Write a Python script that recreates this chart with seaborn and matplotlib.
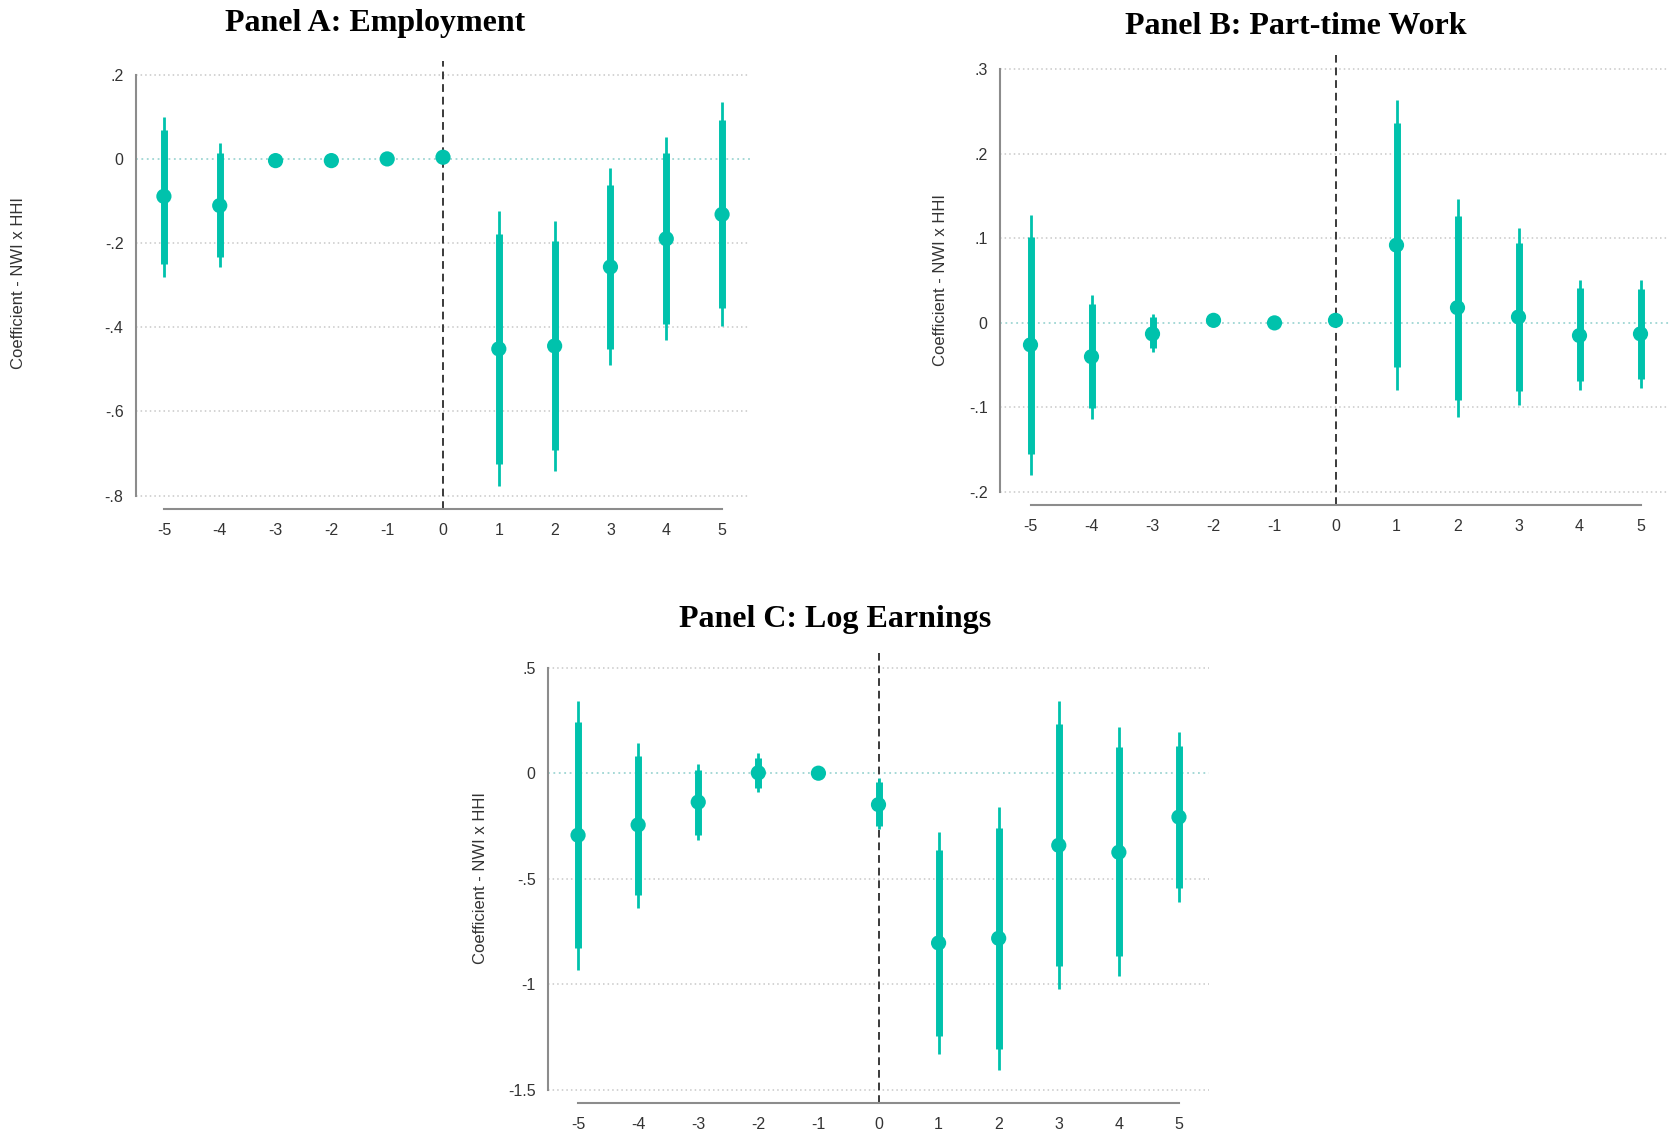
import numpy as np
import pandas as pd
import matplotlib
matplotlib.use("Agg")
import matplotlib.pyplot as plt
import seaborn as sns

# Event time relative to the shock
event_time = [-5, -4, -3, -2, -1, 0, 1, 2, 3, 4, 5]

# Panel A: Employment
emp_coef = [-0.088, -0.110, -0.003, -0.003, 0.001, 0.005, -0.451, -0.444, -0.256, -0.189, -0.131]
emp_hi90 = [0.069, 0.014, -0.003, -0.003, 0.001, 0.005, -0.177, -0.195, -0.060, 0.015, 0.093]
emp_lo90 = [-0.248, -0.232, -0.003, -0.003, 0.001, 0.005, -0.725, -0.692, -0.451, -0.391, -0.354]
emp_hi95 = [0.101, 0.040, -0.003, -0.003, 0.001, 0.005, -0.124, -0.147, -0.021, 0.054, 0.137]
emp_lo95 = [-0.279, -0.257, -0.003, -0.003, 0.001, 0.005, -0.778, -0.741, -0.489, -0.429, -0.396]

# Panel B: Part-time work
pt_coef = [-0.026, -0.040, -0.013, 0.003, 0.000, 0.003, 0.092, 0.018, 0.007, -0.015, -0.013]
pt_hi90 = [0.102, 0.022, 0.007, 0.003, 0.000, 0.003, 0.236, 0.126, 0.095, 0.041, 0.040]
pt_lo90 = [-0.155, -0.101, -0.030, 0.003, 0.000, 0.003, -0.052, -0.091, -0.081, -0.069, -0.066]
pt_hi95 = [0.128, 0.033, 0.010, 0.003, 0.000, 0.003, 0.264, 0.147, 0.112, 0.051, 0.051]
pt_lo95 = [-0.180, -0.114, -0.034, 0.003, 0.000, 0.003, -0.080, -0.111, -0.097, -0.080, -0.077]

# Panel C: Log earnings
earn_coef = [-0.294, -0.245, -0.137, 0.002, 0.000, -0.149, -0.805, -0.783, -0.342, -0.375, -0.208]
earn_hi90 = [0.242, 0.081, 0.016, 0.074, 0.000, -0.044, -0.366, -0.262, 0.231, 0.123, 0.129]
earn_lo90 = [-0.830, -0.576, -0.291, -0.071, 0.000, -0.249, -1.246, -1.307, -0.915, -0.867, -0.544]
earn_hi95 = [0.344, 0.142, 0.045, 0.094, 0.000, -0.023, -0.281, -0.160, 0.341, 0.220, 0.194]
earn_lo95 = [-0.931, -0.641, -0.318, -0.087, 0.000, -0.265, -1.330, -1.408, -1.023, -0.964, -0.609]

# Axis ticks
emp_yticks = [0.2, 0.0, -0.2, -0.4, -0.6, -0.8]
emp_ylabels = [".2", "0", "-.2", "-.4", "-.6", "-.8"]
pt_yticks = [0.3, 0.2, 0.1, 0.0, -0.1, -0.2]
pt_ylabels = [".3", ".2", ".1", "0", "-.1", "-.2"]
earn_yticks = [0.5, 0.0, -0.5, -1.0, -1.5]
earn_ylabels = [".5", "0", "-.5", "-1", "-1.5"]

titles = ["Panel A: Employment", "Panel B: Part-time Work", "Panel C: Log Earnings"]
ylabel = "Coefficient - NWI x HHI"

TEAL = "#00C2AC"
GRID = "#c8c8c8"
SPINE = "#8c8c8c"

sns.set_theme(style="white")
plt.rcParams["font.family"] = ["Liberation Sans", "DejaVu Sans"]

W, H = 1669, 1135
fig = plt.figure(figsize=(W / 100, H / 100), dpi=100)


def px_axes(left, right, top, bottom):
    return fig.add_axes([left / W, 1 - bottom / H, (right - left) / W, (bottom - top) / H])


def draw_panel(ax, coef, lo90, hi90, lo95, hi95, yticks, ylabels, ylim):
    df = pd.DataFrame({"t": event_time, "b": coef, "lo90": lo90, "hi90": hi90,
                       "lo95": lo95, "hi95": hi95})
    ax.set_xlim(-5.5, 5.5)
    ax.set_ylim(*ylim)
    for yv in yticks:
        if yv == 0:
            ax.axhline(0, color="#9ed6d3", lw=1.3, ls=(0, (1, 2)), zorder=1)
        else:
            ax.axhline(yv, color=GRID, lw=1.1, ls=(0, (1, 2)), zorder=1)
    ax.axvline(0, color="#3a3a3a", lw=1.4, ls=(0, (4, 2.5)), zorder=2)
    ax.vlines(df["t"], df["lo95"], df["hi95"], color=TEAL, lw=2.0, zorder=3)
    ax.vlines(df["t"], df["lo90"], df["hi90"], color=TEAL, lw=5.0, zorder=3)
    sns.scatterplot(data=df, x="t", y="b", ax=ax, color=TEAL, s=120,
                    edgecolor="none", zorder=4, legend=False)
    ax.set_xlabel("")
    ax.set_ylabel("")
    ax.set_xticks(event_time)
    ax.set_xticklabels([str(v) for v in event_time])
    ax.set_yticks(yticks)
    ax.set_yticklabels(ylabels)
    for side in ["top", "right"]:
        ax.spines[side].set_visible(False)
    ax.spines["left"].set_bounds(min(yticks), max(yticks))
    ax.spines["bottom"].set_bounds(-5, 5)
    for side in ["left", "bottom"]:
        ax.spines[side].set_color(SPINE)
        ax.spines[side].set_linewidth(1.5)
    ax.tick_params(axis="both", which="major", length=7, width=1.3, color=SPINE,
                   labelsize=11.5, labelcolor="#333333", direction="out")
    ax.tick_params(axis="x", pad=3)
    ax.tick_params(axis="y", pad=2)
    ax.grid(False)


axA = px_axes(136, 750, 61, 509)
draw_panel(axA, emp_coef, emp_lo90, emp_hi90, emp_lo95, emp_hi95,
           emp_yticks, emp_ylabels, (-0.832, 0.234))

axB = px_axes(1000, 1671, 55, 505)
draw_panel(axB, pt_coef, pt_lo90, pt_hi90, pt_lo95, pt_hi95,
           pt_yticks, pt_ylabels, (-0.2155, 0.317))

axC = px_axes(548, 1209, 653, 1103)
draw_panel(axC, earn_coef, earn_lo90, earn_hi90, earn_lo95, earn_hi95,
           earn_yticks, earn_ylabels, (-1.564, 0.570))

title_kw = dict(ha="center", va="center", fontsize=23, fontweight="bold",
                family=["Liberation Serif", "DejaVu Serif"], color="black")
fig.text(375 / W, 1 - 24 / H, titles[0], **title_kw)
fig.text(1296 / W, 1 - 26 / H, titles[1], **title_kw)
fig.text(835 / W, 1 - 619 / H, titles[2], **title_kw)

ylab_kw = dict(ha="center", va="center", rotation=90, fontsize=12, color="#333333")
fig.text(19 / W, 1 - 283 / H, ylabel, **ylab_kw)
fig.text(940 / W, 1 - 280 / H, ylabel, **ylab_kw)
fig.text(480 / W, 1 - 878 / H, ylabel, **ylab_kw)

fig.savefig("out.png", dpi=100, facecolor="white")
